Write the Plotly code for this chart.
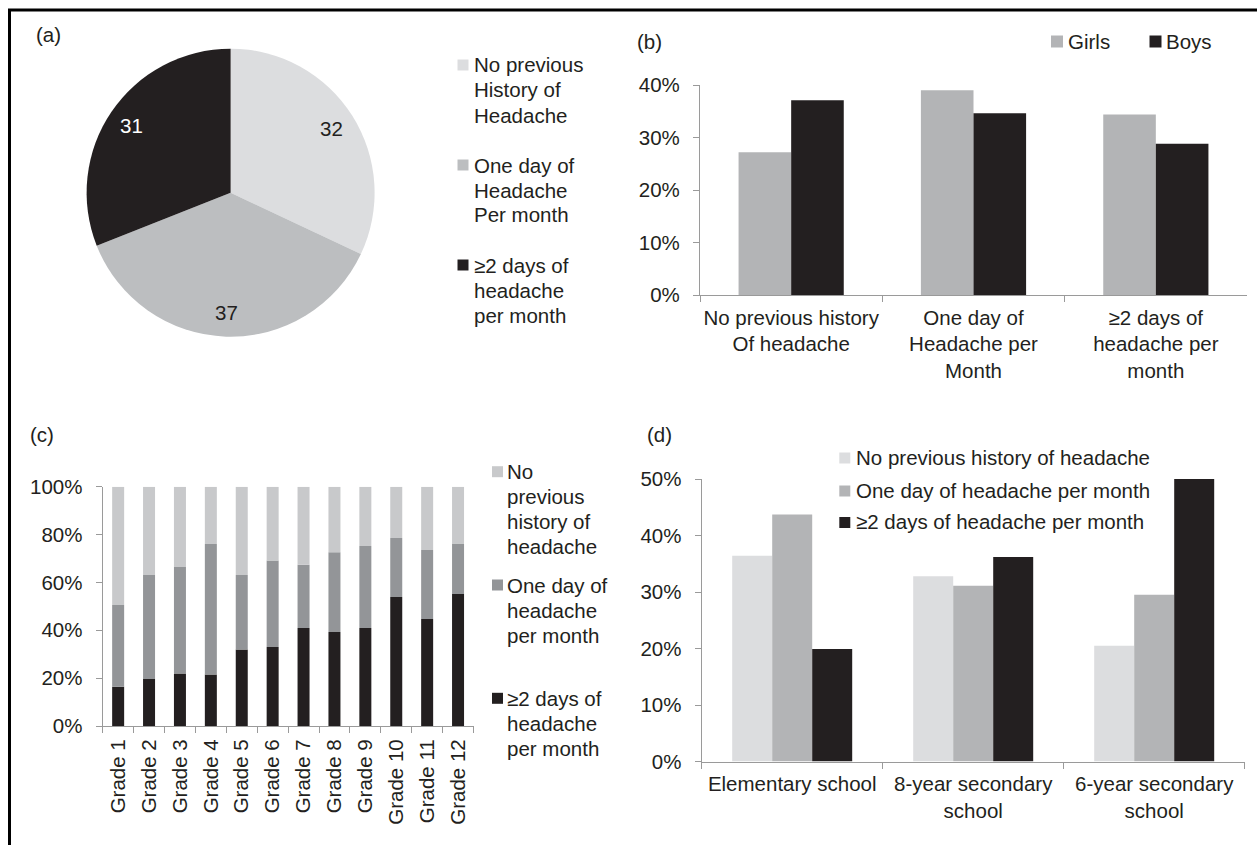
import math
import plotly.graph_objects as go

W, H = 1257, 845
FONT = "Liberation Sans, Arial, Helvetica, sans-serif"
TXT = "#231f20"
AX = "#9a9a9a"
FS = 20.5

# ---------------- data ----------------
pie_labels = ["No previous History of Headache", "One day of Headache Per month", "≥2 days of headache per month"]
pie_values = [32, 37, 31]
pie_colors = ["#dcdddf", "#bcbec0", "#231f20"]
pie_text_colors = [TXT, TXT, "#ffffff"]
pie_legend_lines = [["No previous", "History of", "Headache"],
                    ["One day of", "Headache", "Per month"],
                    ["≥2 days of", "headache", "per month"]]

b_categories = ["No previous history<br>Of headache", "One day of<br>Headache per<br>Month",
                "≥2 days of<br>headache per<br>month"]
b_series = ["Girls", "Boys"]
b_girls = [27.2, 39.0, 34.4]
b_boys = [37.1, 34.6, 28.8]
b_colors = ["#b3b4b6", "#231f20"]
b_ticks = [0, 10, 20, 30, 40]
b_ticktext = ["0%", "10%", "20%", "30%", "40%"]

c_grades = ["Grade 1", "Grade 2", "Grade 3", "Grade 4", "Grade 5", "Grade 6",
            "Grade 7", "Grade 8", "Grade 9", "Grade 10", "Grade 11", "Grade 12"]
c_two_plus = [16.4, 19.6, 21.9, 21.5, 32.0, 33.0, 41.0, 39.3, 41.0, 53.9, 44.7, 55.2]
c_one_day = [34.2, 43.5, 44.5, 54.6, 31.1, 36.2, 26.4, 33.3, 34.2, 24.7, 28.8, 21.1]
c_none = [49.4, 36.9, 33.6, 23.9, 36.9, 30.8, 32.6, 27.4, 24.8, 21.4, 26.5, 23.7]
c_colors = ["#c8c9cb", "#939598", "#231f20"]
c_legend_lines = [["No", "previous", "history of", "headache"],
                  ["One day of", "headache", "per month"],
                  ["≥2 days of", "headache", "per month"]]
c_ticks = [0, 20, 40, 60, 80, 100]
c_ticktext = ["0%", "20%", "40%", "60%", "80%", "100%"]

d_categories = ["Elementary school", "8-year secondary<br>school", "6-year secondary<br>school"]
d_series = ["No previous history of headache", "One day of headache per month", "≥2 days of headache per month"]
d_none = [36.4, 32.8, 20.5]
d_one_day = [43.7, 31.1, 29.5]
d_two_plus = [19.9, 36.2, 50.0]
d_colors = ["#dcdddf", "#b3b4b6", "#231f20"]
d_ticks = [0, 10, 20, 30, 40, 50]
d_ticktext = ["0%", "10%", "20%", "30%", "40%", "50%"]


def xp(px):
    return px / W


def yp(py):
    return 1 - py / H


fig = go.Figure()
annotations = []
shapes = []


def label(x, y, text, size=FS, color=TXT, xanchor="left"):
    annotations.append(dict(x=xp(x), y=yp(y), xref="paper", yref="paper", text=text, showarrow=False,
                            xanchor=xanchor, yanchor="middle", borderpad=0,
                            font=dict(size=size, color=color, family=FONT)))


def square(cx, cy, size, color):
    shapes.append(dict(type="rect", xref="paper", yref="paper", x0=xp(cx - size / 2), x1=xp(cx + size / 2),
                       y0=yp(cy + size / 2), y1=yp(cy - size / 2), fillcolor=color, line=dict(width=0)))


# ---------------- (a) pie ----------------
pcx, pcy, pr = 230.6, 192.7, 144
fig.add_trace(go.Pie(labels=pie_labels, values=pie_values, sort=False, direction="clockwise", rotation=0,
                     marker=dict(colors=pie_colors, line=dict(width=0)), textinfo="none", hoverinfo="label+value",
                     domain=dict(x=[xp(pcx - pr), xp(pcx + pr)], y=[yp(pcy + pr), yp(pcy - pr)]),
                     showlegend=False, automargin=False))
total = sum(pie_values)
cum = 0
for v, tc in zip(pie_values, pie_text_colors):
    ang = math.radians(360 * (cum + v / 2) / total)
    cum += v
    label(pcx + 0.83 * pr * math.sin(ang), pcy - 0.83 * pr * math.cos(ang), str(v), color=tc, xanchor="center")

for i, (lines, col) in enumerate(zip(pie_legend_lines, pie_colors)):
    y0 = 65 + 100 * i
    square(463, y0, 11, col)
    for j, ln in enumerate(lines):
        label(473, y0 + 25 * j, ln)

# ---------------- (b) grouped bars ----------------
bw_b = 52.5 / 182
for name, vals, col, off in zip(b_series, [b_girls, b_boys], b_colors, [-bw_b, 0]):
    fig.add_trace(go.Bar(x=b_categories, y=vals, name=name, marker=dict(color=col, line=dict(width=0)),
                         width=bw_b, offset=off, xaxis="x", yaxis="y", showlegend=False))
for name, col, sx in zip(b_series, b_colors, [1057, 1155.5]):
    square(sx, 41.5, 12, col)
    label(sx + 9.5, 41.7, name)

# ---------------- (c) stacked bars ----------------
bw_c = 12 / 30.9
bases = [0] * len(c_grades)
for name, vals, col in zip(["≥2 days of headache per month", "One day of headache per month",
                            "No previous history of headache"], [c_two_plus, c_one_day, c_none],
                           c_colors[::-1]):
    fig.add_trace(go.Bar(x=c_grades, y=vals, base=list(bases), name=name,
                         marker=dict(color=col, line=dict(width=0)), width=bw_c, offset=-bw_c / 2,
                         xaxis="x2", yaxis="y2", showlegend=False))
    bases = [b + v for b, v in zip(bases, vals)]

c_leg_y = [471.7, 585, 698.3]
for lines, col, y0 in zip(c_legend_lines, c_colors, c_leg_y):
    square(497.5, y0, 11, col)
    for j, ln in enumerate(lines):
        label(506, y0 + 25 * j, ln)

# ---------------- (d) grouped bars ----------------
bw_d = 40 / 181
for name, vals, col, off in zip(d_series, [d_none, d_one_day, d_two_plus], d_colors,
                                [-1.5 * bw_d, -0.5 * bw_d, 0.5 * bw_d]):
    fig.add_trace(go.Bar(x=d_categories, y=vals, name=name, marker=dict(color=col, line=dict(width=0)),
                         width=bw_d, offset=off, xaxis="x3", yaxis="y3", showlegend=False))
for name, col, yy in zip(d_series, d_colors, [458, 491, 522.5]):
    square(844.8, yy, 11, col)
    label(855, yy - 0.8, name)

# panel letters
label(35, 35, "(a)")
label(636, 42, "(b)")
label(29, 435, "(c)")
label(646, 435, "(d)")

# outer frame
shapes.append(dict(type="rect", xref="paper", yref="paper", x0=xp(9.5), x1=xp(1264), y0=yp(852), y1=yp(10),
                   line=dict(color="#000000", width=3), fillcolor="rgba(0,0,0,0)"))

axis_common = dict(showline=True, linecolor=AX, linewidth=1.2, showgrid=False, zeroline=False,
                   ticks="outside", ticklen=6, tickcolor=AX, tickwidth=1.2, automargin=False,
                   tickfont=dict(size=FS, color=TXT, family=FONT), fixedrange=True)

fig.update_layout(
    template="none",
    width=W, height=H, margin=dict(l=0, r=0, t=0, b=0, pad=0, autoexpand=False), autosize=False,
    paper_bgcolor="white", plot_bgcolor="white", barmode="overlay", showlegend=False,
    font=dict(family=FONT, size=FS, color=TXT),
    xaxis=dict(axis_common, domain=[xp(700), xp(1247)], anchor="y", type="category",
               range=[-0.5, 2.5], tickson="boundaries", tickangle=0, ticklabelstandoff=4),
    yaxis=dict(axis_common, domain=[yp(295), yp(85)], anchor="x", range=[0, 40],
               tickmode="array", tickvals=b_ticks, ticktext=b_ticktext, ticklabelstandoff=9),
    xaxis2=dict(axis_common, domain=[xp(102.7), xp(473.5)], anchor="y2", type="category",
                range=[-0.5, 11.5], tickson="boundaries", tickangle=-90, ticklabelstandoff=4),
    yaxis2=dict(axis_common, domain=[yp(726), yp(486.7)], anchor="x2", range=[0, 100],
                tickmode="array", tickvals=c_ticks, ticktext=c_ticktext, ticklabelstandoff=9),
    xaxis3=dict(axis_common, domain=[xp(701.7), xp(1244.7)], anchor="y3", type="category",
                range=[-0.5, 2.5], tickson="boundaries", tickangle=0, ticklabelstandoff=4),
    yaxis3=dict(axis_common, domain=[yp(761.5), yp(479)], anchor="x3", range=[0, 50],
                tickmode="array", tickvals=d_ticks, ticktext=d_ticktext, ticklabelstandoff=9),
    annotations=annotations, shapes=shapes,
)

fig.write_html("out.html")
